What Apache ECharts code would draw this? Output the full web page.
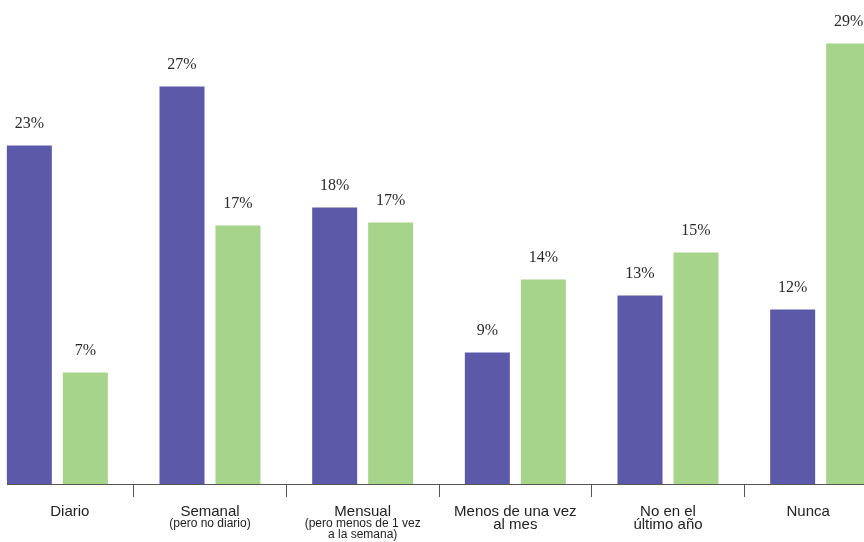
<!DOCTYPE html>
<html>
<head>
<meta charset="utf-8">
<script src="https://cdn.jsdelivr.net/npm/echarts@6/dist/echarts.min.js"></script>
<style>
  html, body { margin: 0; padding: 0; background: #ffffff; }
  #chart { width: 864px; height: 542px; }
</style>
</head>
<body>
<div id="chart"></div>
<script>
// Categories (main line(s)) and their smaller sub-captions
const categories = ['Diario', 'Semanal', 'Mensual', 'Menos de una vez\nal mes', 'No en el\núltimo año', 'Nunca'];
const subCaptions = ['', '(pero no diario)', '(pero menos de 1 vez\na la semana)', '', '', ''];

// Series values (%)
const seriesPurple = [22.57, 26.5, 18.43, 8.77, 12.57, 11.63];
const seriesGreen  = [7.43, 17.23, 17.43, 13.63, 15.43, 29.37];

const colorPurple = '#5c5aa8';
const colorGreen = '#a5d48a';

const chart = echarts.init(document.getElementById('chart'), null, { renderer: 'canvas' });

const labelStyle = {
  show: true,
  position: 'top',
  distance: 14,
  fontFamily: '"Liberation Serif", "DejaVu Serif", serif',
  fontSize: 16,
  color: '#2a2a2a',
  formatter: p => Math.round(p.value) + '%'
};

const sans = '"Liberation Sans", Arial, sans-serif';

const option = {
  backgroundColor: '#ffffff',
  animation: false,
  grid: { left: -19, width: 916, top: 4, height: 480, containLabel: false, outerBoundsMode: 'none' },
  xAxis: {
    type: 'category',
    data: categories,
    boundaryGap: true,
    axisLine: { show: true, lineStyle: { color: '#555555', width: 1 } },
    axisTick: { show: true, alignWithLabel: false, length: 13, lineStyle: { color: '#555555', width: 1 } },
    axisLabel: {
      interval: 0,
      margin: 22,
      color: '#222222',
      fontFamily: sans,
      formatter: (v, i) => {
        const mainStyle = i === 0 ? 'aL' : (i === categories.length - 1 ? 'aR' : 'a');
        const main = v.split('\n').map(l => '{' + mainStyle + '|' + l + '}');
        const sub = subCaptions[i] ? subCaptions[i].split('\n').map(l => '{b|' + l + '}') : [];
        return main.concat(sub).join('\n');
      },
      rich: {
        a: { fontSize: 15, lineHeight: 12.5, color: '#222222', fontFamily: sans },
        aL: { fontSize: 15, lineHeight: 12.5, color: '#222222', fontFamily: sans, padding: [0, 0, 0, 25] },
        aR: { fontSize: 15, lineHeight: 12.5, color: '#222222', fontFamily: sans, padding: [0, 25, 0, 0] },
        b: { fontSize: 12, lineHeight: 10.5, color: '#222222', fontFamily: sans }
      }
    }
  },
  yAxis: {
    type: 'value',
    min: 0,
    max: 32,
    show: false,
    splitLine: { show: false }
  },
  graphic: [
    {
      type: 'rect',
      z: 100,
      shape: { x: 0, y: 481, width: 7, height: 5 },
      style: { fill: '#ffffff' }
    }
  ],
  series: [
    {
      type: 'bar',
      data: seriesPurple,
      barWidth: 45,
      barGap: '24.4%',
      itemStyle: { color: colorPurple },
      label: labelStyle
    },
    {
      type: 'bar',
      data: seriesGreen,
      barWidth: 45,
      itemStyle: { color: colorGreen },
      label: labelStyle
    }
  ]
};

chart.setOption(option);
</script>
</body>
</html>
